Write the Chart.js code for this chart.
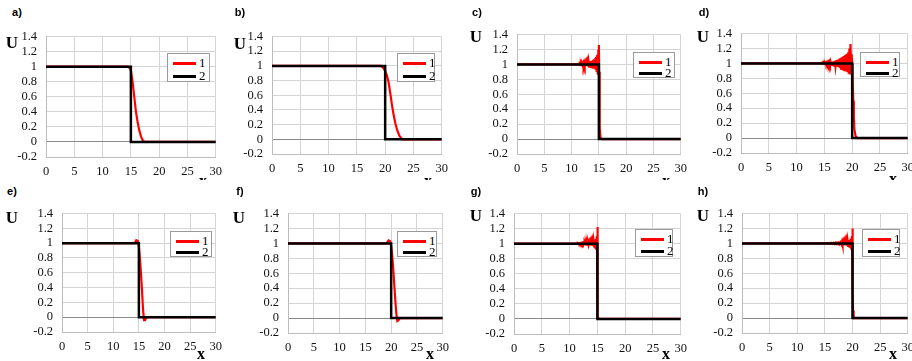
<!DOCTYPE html>
<html>
<head>
<meta charset="utf-8">
<script src="https://cdn.jsdelivr.net/npm/chart.js@4.4.1/dist/chart.umd.min.js"></script>
<style>
  html, body { margin: 0; padding: 0; background: #fff; }
  body { width: 912px; height: 361px; position: relative; overflow: hidden; }
  .row { position: absolute; left: 0; width: 912px; overflow: hidden; }
  .panel { position: absolute; }
  .lbl { position: absolute; transform: translate(-50%, -50%); white-space: nowrap; color: #000; }
  .letter { font: bold 11px Arial, "Liberation Sans", sans-serif; }
  .ulbl { font: bold 17px "Liberation Serif", serif; }
  .xlbl { font: bold 16px "Liberation Serif", serif; }
  .legend { position: absolute; box-sizing: border-box; border: 1px solid #9a9a9a; background: #fff; }
  .legend .item { position: absolute; left: 0; right: 0; height: 12px; }
  .legend .swatch { position: absolute; left: 5px; width: 23px; height: 3px; top: 5px; }
  .legend .txt { position: absolute; left: 31px; top: -2px; font: 13px "Liberation Serif", serif; }
</style>
</head>
<body>
<div class="row" id="row1" style="top:0;height:180px"></div>
<div class="row" id="row2" style="top:180px;height:181px"></div>
<script>
// Данные
const xTicks = [0, 5, 10, 15, 20, 25, 30];
const yTicks = [-0.2, 0, 0.2, 0.4, 0.6, 0.8, 1, 1.2, 1.4];
const yTickLabels = ['-0.2', '0', '0.2', '0.4', '0.6', '0.8', '1', '1.2', '1.4'];
const legendLabels = ['1', '2'];

// точное решение (2) - ступенька
const stepX15 = [0, 15, 15, 30];
const stepX20 = [0, 20, 20, 30];
const stepY = [1, 1, 0, 0];

// численные решения (1)
const aRedX = [0, 14.5, 14.8, 15.0, 15.3, 15.6, 15.9, 16.2, 16.5, 16.8, 17.1, 17.4, 30];
const aRedY = [1, 1, 0.98, 0.95, 0.8, 0.6, 0.4, 0.26, 0.15, 0.07, 0.02, 0, 0];

const bRedX = [0, 19.2, 19.6, 20.0, 20.3, 20.6, 20.9, 21.2, 21.5, 21.8, 22.1, 22.5, 23.0, 30];
const bRedY = [1, 1, 0.98, 0.93, 0.87, 0.78, 0.63, 0.47, 0.33, 0.22, 0.13, 0.05, 0, 0];

const cRedX = [0, 11.4, 11.5, 11.6, 11.7, 11.8, 11.9, 12.0, 12.1, 12.2, 12.3, 12.4, 12.5, 12.6, 12.7, 12.8, 12.9,
  13.0, 13.1, 13.2, 13.3, 13.4, 13.5, 13.6, 13.7, 13.8, 13.9, 14.0, 14.1, 14.2, 14.3, 14.4, 14.5, 14.6, 14.7,
  14.8, 14.9, 15.0, 15.05, 15.1, 15.2, 15.3, 15.5, 30];
const cRedY = [1, 1, 1.005, 0.995, 1.01, 0.99, 1.01, 0.99, 1.015, 0.985, 1.02, 0.985, 1.02, 0.98, 1.025, 0.98, 1.03,
  0.975, 1.035, 0.97, 1.04, 0.97, 1.045, 0.965, 1.05, 0.96, 1.06, 0.955, 1.07, 0.95, 1.08, 0.93, 1.1, 0.9, 1.13,
  0.86, 1.18, 1.26, 0.9, 0.5, 0.15, 0.02, 0, 0];

const dRedX = [0, 14.6, 14.7, 14.8, 14.9, 15.0, 15.1, 15.2, 15.3, 15.4, 15.5, 15.6, 15.7, 15.8, 15.9, 16.0, 16.1,
  16.2, 16.3, 16.4, 16.5, 16.6, 16.7, 16.8, 16.9, 17.0, 17.1, 17.2, 17.3, 17.4, 17.5, 17.6, 17.7, 17.8, 17.9,
  18.0, 18.1, 18.2, 18.3, 18.4, 18.5, 18.6, 18.7, 18.8, 18.9, 19.0, 19.1, 19.2, 19.3, 19.4, 19.5, 19.6, 19.7,
  19.8, 19.9, 20.0, 20.1, 20.2, 20.3, 20.4, 20.6, 20.9, 30];
const dRedY = [1, 1, 1.003, 0.997, 1.005, 0.995, 1.006, 0.993, 1.008, 0.992, 1.01, 0.99, 1.012, 0.988, 1.015, 0.985, 1.018,
  0.982, 1.02, 0.98, 1.025, 0.975, 1.03, 0.97, 1.035, 0.965, 1.04, 0.96, 1.045, 0.955, 1.05, 0.95, 1.06, 0.94, 1.07,
  0.93, 1.08, 0.925, 1.09, 0.92, 1.1, 0.91, 1.11, 0.9, 1.12, 0.89, 1.13, 0.88, 1.15, 0.86, 1.2, 0.85, 1.26,
  0.9, 1.12, 1.0, 0.75, 0.5, 0.28, 0.12, 0.03, 0, 0];

const eRedX = [0, 14.2, 14.5, 14.8, 15.0, 15.2, 15.4, 15.6, 15.8, 16.0, 16.2, 16.5, 30];
const eRedY = [1, 1, 1.04, 1.03, 0.95, 0.8, 0.6, 0.38, 0.12, -0.04, -0.04, 0, 0];

const fRedX = [0, 19.1, 19.5, 19.8, 20.0, 20.2, 20.4, 20.6, 20.8, 21.0, 21.2, 21.4, 21.7, 30];
const fRedY = [1, 1, 1.04, 1.03, 0.96, 0.84, 0.66, 0.45, 0.24, 0.06, -0.04, -0.03, 0, 0];

const gRedX = [0, 11.4, 11.5, 11.6, 11.7, 11.8, 11.9, 12.0, 12.1, 12.2, 12.3, 12.4, 12.5, 12.6, 12.7, 12.8, 12.9,
  13.0, 13.1, 13.2, 13.3, 13.4, 13.5, 13.6, 13.7, 13.8, 13.9, 14.0, 14.1, 14.2, 14.3, 14.4, 14.5, 14.6, 14.7,
  14.8, 14.9, 14.95, 15.0, 15.02, 15.05, 15.1, 15.2, 30];
const gRedY = [1, 1, 1.003, 0.997, 1.004, 0.996, 1.005, 0.995, 1.006, 0.994, 1.007, 0.993, 1.008, 0.992, 1.01, 0.99, 1.012,
  0.988, 1.014, 0.986, 1.016, 0.984, 1.019, 0.981, 1.022, 0.978, 1.026, 0.974, 1.03, 0.97, 1.036, 0.962, 1.045, 0.95, 1.06,
  0.93, 1.1, 0.85, 1.22, 0.8, 0.4, 0.05, 0, 0];

const hRedX = [0, 14.4, 14.6, 14.8, 15.0, 15.2, 15.4, 15.6, 15.8, 16.0, 16.2, 16.4, 16.6, 16.8, 17.0, 17.2, 17.4,
  17.6, 17.8, 18.0, 18.1, 18.2, 18.3, 18.4, 18.5, 18.6, 18.7, 18.8, 18.9, 19.0, 19.1, 19.2, 19.3, 19.4, 19.5,
  19.6, 19.7, 19.8, 19.9, 19.95, 20.0, 20.02, 20.05, 20.1, 20.2, 30];
const hRedY = [1, 1, 1.002, 0.998, 1.003, 0.997, 1.004, 0.996, 1.005, 0.995, 1.006, 0.994, 1.008, 0.992, 1.01, 0.99, 1.012,
  0.988, 1.015, 0.985, 1.018, 0.982, 1.02, 0.98, 1.023, 0.977, 1.026, 0.974, 1.03, 0.97, 1.035, 0.965, 1.04, 0.958, 1.05,
  0.948, 1.065, 0.93, 1.1, 0.88, 1.2, 0.55, 0.35, 0.1, 0, 0];

// Раскладка панелей (область построения l,t,r,b; легенда; подписи)
const panels = [
  { row: 1, letter: 'a)', plot: [46, 28, 217, 157], redX: aRedX, redY: aRedY, stepX: stepX15, leg: [167, 53, 210, 82], L: [17, 12], U: [12, 43], X: [203, 181] },
  { row: 1, letter: 'b)', plot: [272, 28, 443, 154], redX: bRedX, redY: bRedY, stepX: stepX20, leg: [397, 53, 435, 82], L: [240, 12], U: [240, 44], X: [428, 181] },
  { row: 1, letter: 'c)', plot: [517, 26, 682, 154], redX: cRedX, redY: cRedY, stepX: stepX15, leg: [633, 52, 675, 78], L: [477, 12], U: [476, 37], X: [666, 181] },
  { row: 1, letter: 'd)', plot: [741, 25, 909, 153], redX: dRedX, redY: dRedY, stepX: stepX20, leg: [860, 52, 900, 77], L: [704, 12], U: [703, 37], X: [893, 179] },
  { row: 2, letter: 'e)', plot: [62, 205, 217, 332], redX: eRedX, redY: eRedY, stepX: stepX15, leg: [170, 231, 212, 257], L: [12, 191], U: [12, 218], X: [201, 354] },
  { row: 2, letter: 'f)', plot: [288, 205, 444, 333], redX: fRedX, redY: fRedY, stepX: stepX20, leg: [397, 231, 437, 257], L: [240, 191], U: [239, 218], X: [430, 354] },
  { row: 2, letter: 'g)', plot: [514, 205, 682, 334], redX: gRedX, redY: gRedY, stepX: stepX15, leg: [635, 229, 673, 257], L: [476, 191], U: [476, 216], X: [666, 354] },
  { row: 2, letter: 'h)', plot: [742, 205, 909, 333], redX: hRedX, redY: hRedY, stepX: stepX20, leg: [862, 229, 900, 257], L: [703, 191], U: [703, 216], X: [893, 354] }
];

const YW = 36, PT = 8, PR = 12, XH = 24;
const SERIF = "'Liberation Serif', 'Times New Roman', serif";
Chart.defaults.font.family = SERIF;
const tickFont = { family: SERIF, size: 12.5 };
const toPoints = (xs, ys) => xs.map((x, i) => ({ x: x, y: ys[i] }));

function addLabel(parent, cls, text, x, y, rowTop) {
  const el = document.createElement('div');
  el.className = 'lbl ' + cls;
  el.textContent = text;
  el.style.left = x + 'px';
  el.style.top = (y - rowTop) + 'px';
  parent.appendChild(el);
}

function addLegend(parent, box, rowTop) {
  const lg = document.createElement('div');
  lg.className = 'legend';
  lg.style.left = box[0] + 'px';
  lg.style.top = (box[1] - rowTop) + 'px';
  lg.style.width = (box[2] - box[0]) + 'px';
  lg.style.height = (box[3] - box[1]) + 'px';
  const h = box[3] - box[1];
  const colors = ['#ff0000', '#000000'];
  legendLabels.forEach((t, i) => {
    const it = document.createElement('div');
    it.className = 'item';
    it.style.top = (h * (i === 0 ? 0.12 : 0.55)) + 'px';
    it.innerHTML = '<div class="swatch" style="background:' + colors[i] + '"></div><div class="txt">' + t + '</div>';
    lg.appendChild(it);
  });
  parent.appendChild(lg);
}

function drawPanel(p) {
  const rowEl = document.getElementById(p.row === 1 ? 'row1' : 'row2');
  const rowTop = p.row === 1 ? 0 : 180;
  const [l, t, r, b] = p.plot;

  const wrap = document.createElement('div');
  wrap.className = 'panel';
  wrap.style.left = (l - YW) + 'px';
  wrap.style.top = (t - PT - rowTop) + 'px';
  const canvas = document.createElement('canvas');
  const cw = (r - l) + YW + PR, ch = (b - t) + PT + XH;
  canvas.width = cw; canvas.height = ch;
  canvas.style.width = cw + 'px'; canvas.style.height = ch + 'px';
  wrap.appendChild(canvas);
  rowEl.appendChild(wrap);

  new Chart(canvas.getContext('2d'), {
    type: 'line',
    data: {
      datasets: [
        {
          label: legendLabels[1],
          data: toPoints(p.stepX, stepY),
          borderColor: '#000000',
          borderWidth: 2.5,
          pointRadius: 0,
          tension: 0,
          order: 0
        },
        {
          label: legendLabels[0],
          data: toPoints(p.redX, p.redY),
          borderColor: '#ff0000',
          borderWidth: 2.2,
          pointRadius: 0,
          tension: 0,
          order: 1
        }
      ]
    },
    options: {
      responsive: false,
      animation: false,
      devicePixelRatio: 1,
      layout: { padding: { top: PT, right: PR, left: 0, bottom: 0 } },
      plugins: { legend: { display: false }, tooltip: { enabled: false } },
      scales: {
        x: {
          type: 'linear', min: 0, max: 30,
          afterBuildTicks: s => { s.ticks = xTicks.map(v => ({ value: v })); },
          ticks: { font: tickFont, color: '#111', padding: 7, maxRotation: 0, autoSkip: false },
          grid: { color: '#d4d4d4', lineWidth: 1, drawTicks: false },
          border: { color: '#bdbdbd' },
          afterFit: s => { s.height = XH; }
        },
        y: {
          type: 'linear', min: -0.2, max: 1.4,
          afterBuildTicks: s => { s.ticks = yTicks.map(v => ({ value: v })); },
          ticks: {
            font: tickFont, color: '#111', padding: 9, autoSkip: false,
            callback: (v, i) => yTickLabels[i]
          },
          grid: {
            color: c => (c.tick && Math.abs(c.tick.value) < 1e-9) ? '#8a8a8a' : '#d4d4d4',
            lineWidth: 1, drawTicks: false
          },
          border: { color: '#bdbdbd' },
          afterFit: s => { s.width = YW; }
        }
      }
    }
  });

  addLegend(rowEl, p.leg, rowTop);
  addLabel(rowEl, 'letter', p.letter, p.L[0], p.L[1], rowTop);
  addLabel(rowEl, 'ulbl', 'U', p.U[0], p.U[1], rowTop);
  addLabel(rowEl, 'xlbl', 'x', p.X[0], p.X[1], rowTop);
}

// шрифт должен быть загружен до отрисовки на canvas
const fontReady = document.fonts && document.fonts.load
  ? document.fonts.load("12px 'Liberation Serif'").catch(() => null)
  : Promise.resolve();
fontReady.then(() => panels.forEach(drawPanel));
</script>
</body>
</html>
